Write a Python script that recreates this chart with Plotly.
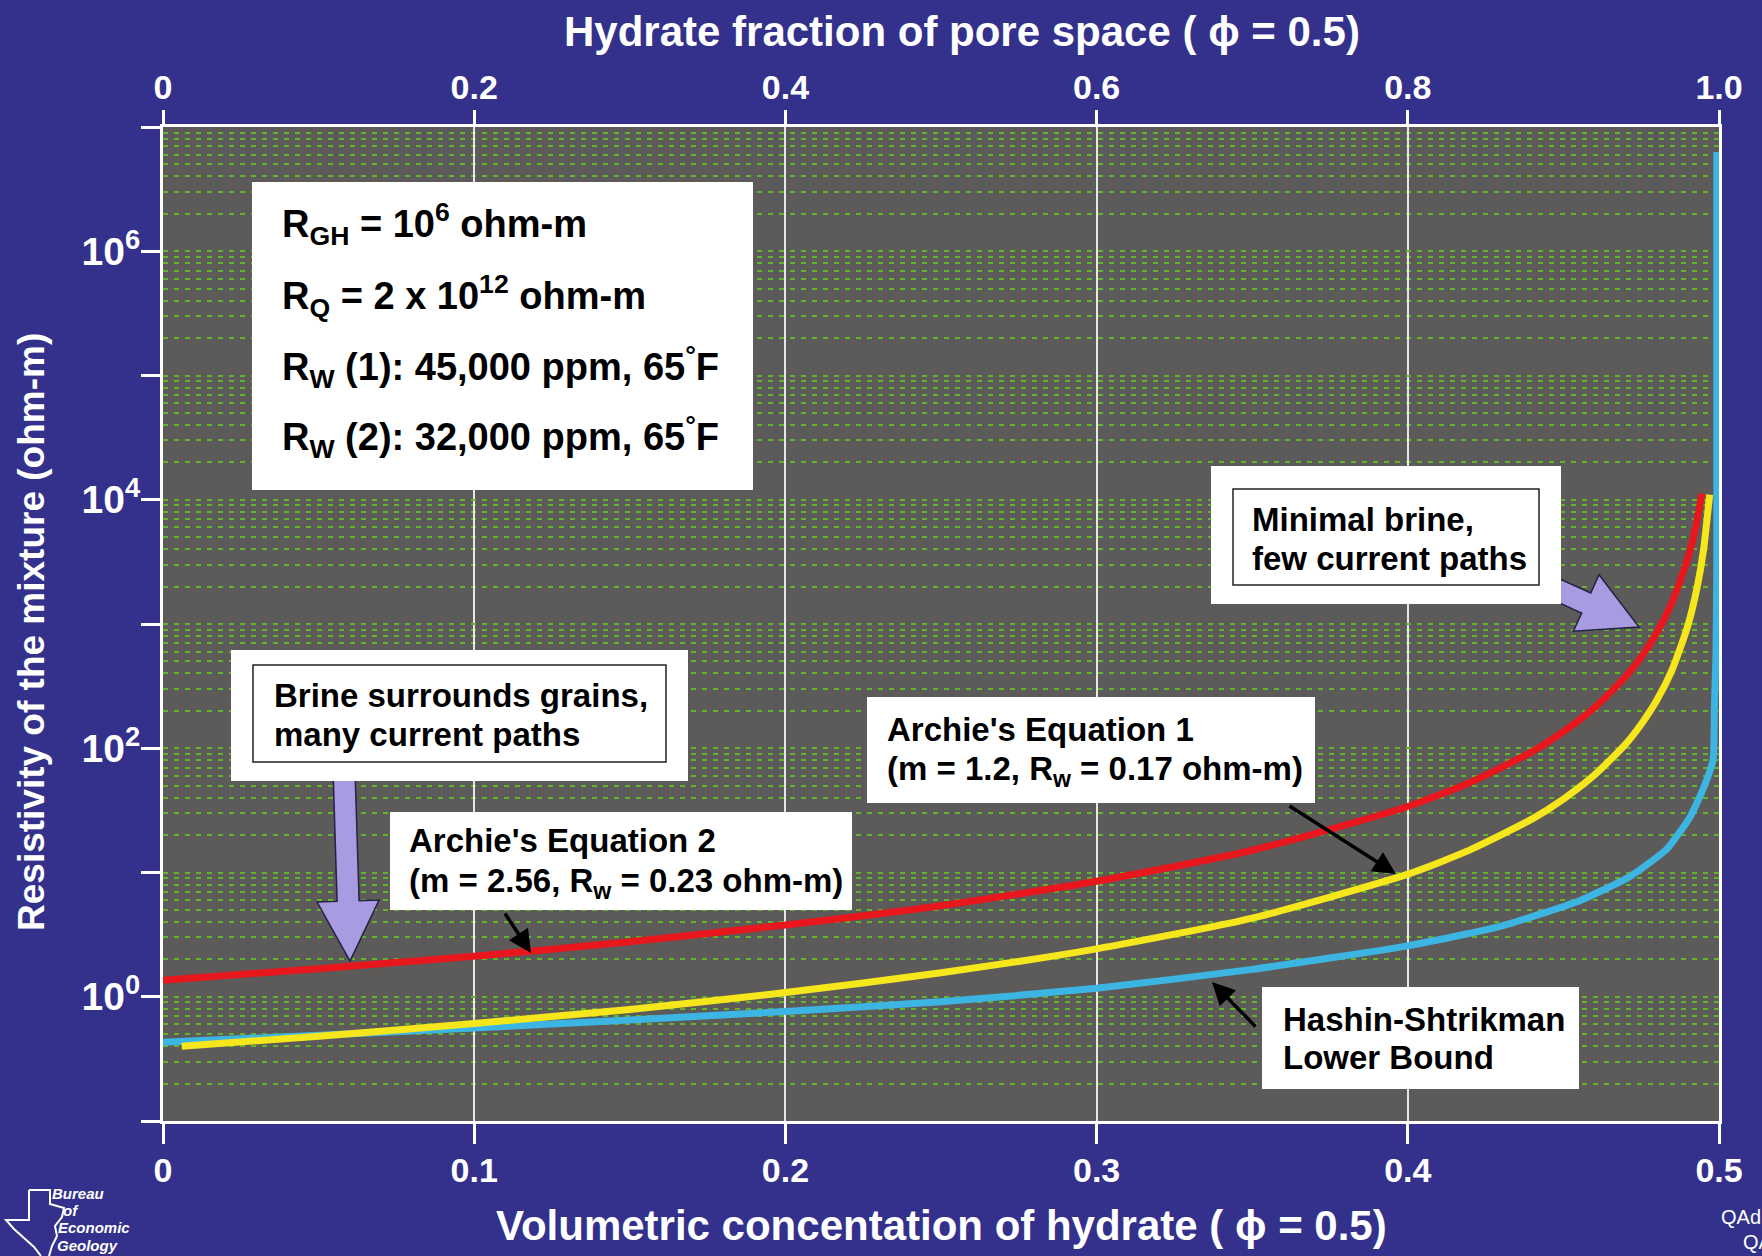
import plotly.graph_objects as go

# ---- data: volumetric hydrate concentration vs. mixture resistivity (ohm-m) ----
conc_archie2 = [0, 0.05, 0.1, 0.15, 0.2, 0.25, 0.3, 0.35, 0.4, 0.42, 0.44, 0.45,
                0.46, 0.47, 0.475, 0.48, 0.485, 0.49, 0.4925, 0.4945]
res_archie2 = [1.36, 1.68, 2.12, 2.77, 3.78, 5.4, 8.5, 15.1, 34, 53, 94, 136,
               212, 378, 543, 850, 1510, 3400, 6000, 11200]

conc_archie1 = [0.006, 0.05, 0.1, 0.15, 0.2, 0.25, 0.3, 0.35, 0.4, 0.42, 0.44, 0.45,
                0.46, 0.47, 0.475, 0.48, 0.485, 0.49, 0.493, 0.495, 0.497]
res_archie1 = [0.40, 0.48, 0.61, 0.79, 1.08, 1.56, 2.43, 4.3, 9.7, 15.2, 27, 39,
               61, 108, 156, 243, 432, 973, 1990, 3900, 11000]

conc_hs = [0, 0.05, 0.1, 0.15, 0.2, 0.25, 0.3, 0.35, 0.4, 0.43, 0.455, 0.4714,
           0.4833, 0.4907, 0.4949, 0.4981, 0.4985, 0.4990, 0.4993, 0.4993]
res_hs = [0.43, 0.49, 0.56, 0.65, 0.76, 0.91, 1.17, 1.66, 2.57, 3.7, 5.9, 9.3,
          15.5, 28, 47, 81, 205, 525, 3000, 6.3e6]

bottom_ticks = [0, 0.1, 0.2, 0.3, 0.4, 0.5]
bottom_labels = ["0", "0.1", "0.2", "0.3", "0.4", "0.5"]
top_ticks = [0, 0.2, 0.4, 0.6, 0.8, 1.0]
top_labels = ["0", "0.2", "0.4", "0.6", "0.8", "1.0"]
y_decades = [-1, 0, 1, 2, 3, 4, 5, 6, 7]
y_labels = ["", "10<sup>0</sup>", "", "10<sup>2</sup>", "", "10<sup>4</sup>", "",
            "10<sup>6</sup>", ""]

param_lines = [
    "R<sub>GH</sub> = 10<sup>6</sup> ohm-m",
    "R<sub>Q</sub> = 2 x 10<sup>12</sup> ohm-m",
    "R<sub>W</sub> (1): 45,000 ppm, 65<sup>°</sup>F",
    "R<sub>W</sub> (2): 32,000 ppm, 65<sup>°</sup>F",
]

# ---- styling ----
W, H = 1762, 1256
L, R, T, B = 163, 1719, 127, 1121
NAVY = "#33318c"
PLOT_BG = "#5d5b5a"
GRID_GREEN = "#62b52a"
LAVENDER = "#a99be2"
FONT = "Liberation Sans, Arial, Helvetica, sans-serif"


def px(x):
    return (x - L) / (R - L)


def py(y):
    return (B - y) / (B - T)


def block_arrow(tail, tip, sw, hw, hl):
    """Closed SVG path (paper coords) of a fat arrow from tail to tip."""
    tx, ty = tail
    qx, qy = tip
    dx, dy = qx - tx, qy - ty
    n = (dx * dx + dy * dy) ** 0.5
    ux, uy = dx / n, dy / n
    nx, ny = -uy, ux
    bx, by = qx - ux * hl, qy - uy * hl
    pts = [
        (tx + nx * sw, ty + ny * sw),
        (bx + nx * sw, by + ny * sw),
        (bx + nx * hw, by + ny * hw),
        (qx, qy),
        (bx - nx * hw, by - ny * hw),
        (bx - nx * sw, by - ny * sw),
        (tx - nx * sw, ty - ny * sw),
    ]
    return "M " + " L ".join(f"{px(a):.5f},{py(b):.5f}" for a, b in pts) + " Z"


fig = go.Figure()

fig.add_trace(go.Scatter(x=conc_hs, y=res_hs, mode="lines",
                         line=dict(color="#3cb5e2", width=7, shape="spline", smoothing=0.5),
                         name="Hashin-Shtrikman Lower Bound", hoverinfo="x+y"))
fig.add_trace(go.Scatter(x=conc_archie1, y=res_archie1, mode="lines",
                         line=dict(color="#f6e61c", width=7, shape="spline", smoothing=0.6),
                         name="Archie's Equation 1", hoverinfo="x+y"))
fig.add_trace(go.Scatter(x=conc_archie2, y=res_archie2, mode="lines",
                         line=dict(color="#e8171e", width=7, shape="spline", smoothing=0.6),
                         name="Archie's Equation 2", hoverinfo="x+y"))
# anchors the top (pore-space fraction) axis
fig.add_trace(go.Scatter(x=top_ticks, y=[None] * len(top_ticks), xaxis="x2",
                         mode="lines", showlegend=False, hoverinfo="skip"))

shapes = []
# fat lavender arrows (tails tucked under their boxes)
shapes.append(dict(type="path", xref="paper", yref="paper", layer="above",
                   path=block_arrow((344, 770), (350, 961), 11, 31, 60),
                   fillcolor=LAVENDER, line=dict(color="#222244", width=1.5)))
shapes.append(dict(type="path", xref="paper", yref="paper", layer="above",
                   path=block_arrow((1540, 582), (1639, 627), 11, 31, 58),
                   fillcolor=LAVENDER, line=dict(color="#222244", width=1.5)))


def white_box(x0, y0, x1, y1):
    shapes.append(dict(type="rect", xref="paper", yref="paper", layer="above",
                       x0=px(x0), x1=px(x1), y0=py(y1), y1=py(y0),
                       fillcolor="white", line=dict(width=0)))


def frame_box(x0, y0, x1, y1):
    shapes.append(dict(type="rect", xref="paper", yref="paper", layer="above",
                       x0=px(x0), x1=px(x1), y0=py(y1), y1=py(y0),
                       fillcolor="rgba(0,0,0,0)", line=dict(color="#222222", width=1.5)))


white_box(252, 182, 753, 490)          # parameters
white_box(1211, 466, 1561, 604)        # minimal brine
frame_box(1233, 489, 1539, 585)
white_box(231, 650, 688, 781)          # brine surrounds grains
frame_box(253, 665, 666, 762)
white_box(867, 697, 1315, 803)         # Archie 1
white_box(390, 812, 852, 910)          # Archie 2
white_box(1262, 987, 1579, 1089)       # Hashin-Shtrikman

# Texas outline of the logo
texas = [(29, 1190), (50, 1190), (50, 1204), (64, 1208), (62, 1217), (55, 1226),
         (57, 1236), (52, 1246), (49, 1256)]
texas_left = [(29, 1190), (29, 1220), (6, 1220), (14, 1229), (24, 1238), (34, 1247), (41, 1256)]
for poly in (texas, texas_left):
    shapes.append(dict(type="path", xref="paper", yref="paper", layer="above",
                       path="M " + " L ".join(f"{px(a):.5f},{py(b):.5f}" for a, b in poly),
                       line=dict(color="white", width=2)))

annotations = []


def text(x, y, s, size, color="black", weight="bold", xanchor="left", angle=0, family=FONT):
    annotations.append(dict(xref="paper", yref="paper", x=px(x), y=py(y), text=s,
                            showarrow=False, xanchor=xanchor, yanchor="middle",
                            textangle=angle, borderpad=0,
                            font=dict(family=family, size=size, color=color, weight=weight)))


for yy, s in zip([224, 296, 367, 437], param_lines):
    text(281, yy, s, 38)
text(1251, 519, "Minimal brine,", 33)
text(1251, 558, "few current paths", 33)
text(273, 695, "Brine surrounds grains,", 33)
text(273, 734, "many current paths", 33)
text(886, 730, "Archie's Equation 1", 33)
text(886, 771, "(m = 1.2, R<sub>w</sub> = 0.17 ohm-m)", 33)
text(408, 841, "Archie's Equation 2", 33)
text(408, 883, "(m = 2.56, R<sub>w</sub> = 0.23 ohm-m)", 33)
text(1282, 1019, "Hashin-Shtrikman", 33)
text(1282, 1057, "Lower Bound", 33)

# axis titles
text(962, 31, "Hydrate fraction of pore space ( ϕ = 0.5)", 42, color="white", xanchor="center")
text(941, 1225, "Volumetric concentation of hydrate ( ϕ = 0.5)", 42, color="white", xanchor="center")
text(31, 632, "Resistivity of the mixture (ohm-m)", 37, color="white", xanchor="center", angle=-90)

# logo and corner marks
text(51, 1193, "<i>Bureau</i>", 15, color="white")
text(62, 1210, "<i>of</i>", 15, color="white")
text(57, 1227, "<i>Economic</i>", 15, color="white")
text(56, 1245, "<i>Geology</i>", 15, color="white")
text(1720, 1217, "QAd", 20, color="white", weight="normal")
text(1742, 1242, "QA", 20, color="white", weight="normal")

# black pointer arrows
for tip, tail in [((531, 953), (504, 912)),
                  ((1396, 874), (1288, 805)),
                  ((1212, 982), (1257, 1028))]:
    annotations.append(dict(xref="paper", yref="paper", x=px(tip[0]), y=py(tip[1]),
                            ax=tail[0] - tip[0], ay=tail[1] - tip[1],
                            axref="pixel", ayref="pixel", text="", showarrow=True,
                            arrowhead=2, arrowsize=1.3, arrowwidth=3.5,
                            arrowcolor="black", standoff=0))

tickfont = dict(family=FONT, size=34, color="white", weight="bold")

fig.update_layout(
    width=W, height=H,
    margin=dict(l=L, r=W - R, t=T, b=H - B, autoexpand=False),
    paper_bgcolor=NAVY, plot_bgcolor=PLOT_BG,
    showlegend=False,
    shapes=shapes, annotations=annotations,
    xaxis=dict(range=[0, 0.5], tickvals=bottom_ticks, ticktext=bottom_labels,
               ticks="outside", ticklen=20, tickwidth=3, tickcolor="white",
               showline=True, linecolor="white", linewidth=3, mirror=False,
               showgrid=True, gridcolor="rgba(255,255,255,0.85)", gridwidth=1.5,
               zeroline=False, tickfont=tickfont, ticklabelstandoff=-3),
    xaxis2=dict(range=[0, 1], overlaying="x", side="top", anchor="y",
                tickvals=top_ticks, ticktext=top_labels,
                ticks="outside", ticklen=14, tickwidth=3, tickcolor="white",
                showline=True, linecolor="white", linewidth=3,
                showgrid=False, zeroline=False, tickfont=tickfont,
                ticklabelstandoff=-3),
    yaxis=dict(type="log", range=[-1, 7],
               tickvals=[10 ** d for d in y_decades], ticktext=y_labels,
               ticks="outside", ticklen=19, tickwidth=3, tickcolor="white",
               showline=True, linecolor="white", linewidth=3, mirror=True,
               showgrid=True, gridcolor=GRID_GREEN, gridwidth=2, griddash="5px,6px",
               zeroline=False, ticklabelstandoff=-7,
               tickfont=dict(family=FONT, size=39, color="white", weight="bold"),
               minor=dict(tickvals=[k * 10 ** d for d in y_decades[:-1] for k in range(2, 10)],
                          showgrid=True, gridcolor=GRID_GREEN, gridwidth=2,
                          griddash="5px,6px", ticks="")),
)

fig.write_html("out.html")
